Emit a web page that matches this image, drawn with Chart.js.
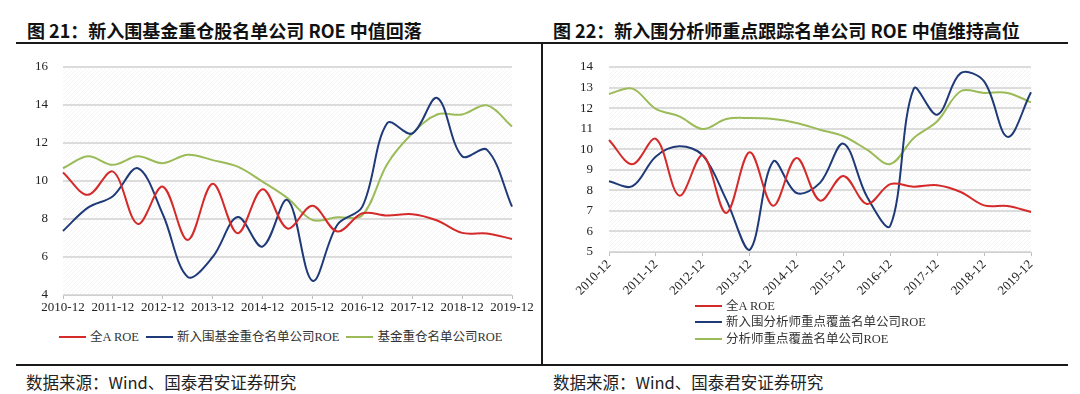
<!DOCTYPE html>
<html>
<head>
<meta charset="utf-8">
<script src="https://cdn.jsdelivr.net/npm/chart.js@4.4.0/dist/chart.umd.min.js"></script>
<style>
  body { margin: 0; background: #fff; width: 1080px; height: 394px; position: relative; overflow: hidden;
         font-family: "Noto Sans CJK SC", sans-serif; }
  .title { position: absolute; top: 17px; font-weight: bold; font-size: 18px; line-height: 26px; color: #111; white-space: nowrap; }
  .rule { position: absolute; background: #1a1a1a; }
  .src { position: absolute; top: 371px; font-size: 16.5px; line-height: 22px; color: #222; white-space: nowrap; }
  .box { position: absolute; }
  .legend { position: absolute; font-family: "Liberation Serif", "Noto Sans CJK SC", serif; font-size: 12.5px; color: #333; white-space: nowrap; }
  .legend .item { display: inline-flex; align-items: center; margin-right: 7px; line-height: 16px; }
  .legend.stack .item { display: flex; margin: 0; line-height: 16.3px; }
  .legend i { display: inline-block; width: 27px; height: 2px; margin-right: 4px; }
</style>
</head>
<body>

<div class="title" style="left:27px">图 21：新入围基金重仓股名单公司 ROE 中值回落</div>
<div class="title" style="left:553px">图 22：新入围分析师重点跟踪名单公司 ROE 中值维持高位</div>
<div class="rule" style="left:16px; top:42px; width:1052px; height:2px"></div>
<div class="rule" style="left:541px; top:43px; width:2px; height:322px"></div>
<div class="rule" style="left:16px; top:364px; width:1052px; height:2px"></div>

<div class="box" style="left:16px; top:50px; width:524px; height:275px"><canvas id="left"></canvas></div>
<div class="box" style="left:560px; top:50px; width:500px; height:250px"><canvas id="right"></canvas></div>

<div class="legend" id="legendLeft" style="left:59px; top:327px"></div>
<div class="legend stack" id="legendRight" style="left:695px; top:298px"></div>

<div class="src" style="left:26px">数据来源：Wind、国泰君安证券研究</div>
<div class="src" style="left:553px">数据来源：Wind、国泰君安证券研究</div>

<script>
// half-year periods, only the December ones are labelled
var periods = ['2010-12', '2011-06', '2011-12', '2012-06', '2012-12', '2013-06', '2013-12', '2014-06', '2014-12',
               '2015-06', '2015-12', '2016-06', '2016-12', '2017-06', '2017-12', '2018-06', '2018-12', '2019-06', '2019-12'];

// 全A ROE (same series in both charts)
var allA      = [10.45, 9.27, 10.5, 7.74, 9.7, 6.9, 9.85, 7.25, 9.57, 7.5, 8.7, 7.34, 8.3, 8.18, 8.25, 7.92, 7.27, 7.24, 6.95];
// left chart
var newFund   = [7.37, 8.6, 9.2, 10.67, 8.25, 4.95, 6.0, 8.1, 6.55, 9.0, 4.75, 7.7, 8.65, 13.05, 12.5, 14.37, 11.3, 11.64, 8.65];
var fund      = [10.67, 11.3, 10.85, 11.3, 10.94, 11.38, 11.1, 10.76, 9.97, 9.1, 7.95, 8.09, 8.2, 10.9, 12.5, 13.5, 13.5, 13.98, 12.87];
// right chart
var newAnalyst = [8.44, 8.2, 9.65, 10.14, 9.7, 7.55, 5.1, 9.4, 7.87, 8.36, 10.27, 7.7, 6.28, 12.95, 11.68, 13.7, 13.3, 10.6, 12.77];
var analyst    = [12.69, 12.95, 11.96, 11.6, 10.98, 11.47, 11.52, 11.47, 11.28, 10.95, 10.63, 9.98, 9.28, 10.55, 11.36, 12.82, 12.74, 12.74, 12.28];

var RED = '#d42a2a', BLUE = '#1f3a78', GREEN = '#9bbb59';
var tickFont = { family: 'Liberation Serif', size: 13 };

// light diagonal hatching behind the plot area
var hatch = {
    id: 'hatch',
    beforeDraw: function (chart) {
        var ctx = chart.ctx, a = chart.chartArea;
        ctx.save();
        ctx.beginPath();
        ctx.rect(a.left, a.top, a.right - a.left, a.bottom - a.top);
        ctx.clip();
        ctx.strokeStyle = 'rgba(0,0,0,0.045)';
        ctx.lineWidth = 1;
        ctx.beginPath();
        var h = a.bottom - a.top;
        for (var x = a.left - h; x < a.right; x += 4) {
            ctx.moveTo(x, a.bottom);
            ctx.lineTo(x + h, a.top);
        }
        ctx.stroke();
        ctx.restore();
    }
};

function series(label, data, color) {
    return {
        label: label, data: data, borderColor: color, backgroundColor: color,
        borderWidth: 2, pointRadius: 0, tension: 0.35, fill: false
    };
}

function makeChart(id, datasets, yMin, yMax, yStep, yWidth, yGap, xHeight, rotate, padRight) {
    return new Chart(document.getElementById(id), {
        type: 'line',
        data: { labels: periods, datasets: datasets },
        plugins: [hatch],
        options: {
            responsive: true,
            maintainAspectRatio: false,
            animation: false,
            layout: { padding: { top: 17, right: padRight, bottom: 0, left: 0 } },
            plugins: { legend: { display: false }, tooltip: { enabled: false } },
            scales: {
                x: {
                    afterFit: function (s) { s.height = xHeight; },
                    border: { display: true, color: '#d0d0d0', width: 1 },
                    grid: {
                        drawOnChartArea: false, drawTicks: true, tickLength: 4,
                        tickColor: function (c) { return c.index % 2 ? 'rgba(0,0,0,0)' : '#bdbdbd'; }
                    },
                    ticks: {
                        autoSkip: false, maxRotation: rotate, minRotation: rotate, padding: 1,
                        color: '#222', font: tickFont,
                        callback: function (v, i) { return i % 2 ? '' : periods[i]; }
                    }
                },
                y: {
                    min: yMin, max: yMax,
                    afterFit: function (s) { s.width = yWidth; },
                    border: { display: false },
                    // invisible tick marks give the gap between labels and plot
                    grid: { color: '#dcdcdc', lineWidth: 2, drawTicks: true, tickLength: yGap, tickColor: 'rgba(0,0,0,0)' },
                    ticks: { stepSize: yStep, padding: 2, color: '#222', font: tickFont }
                }
            }
        }
    });
}

var left = makeChart('left', [
    series('全A ROE', allA, RED),
    series('新入围基金重仓名单公司ROE', newFund, BLUE),
    series('基金重仓名单公司ROE', fund, GREEN)
], 4, 16, 2, 47, 13, 30, 0, 28);

var right = makeChart('right', [
    series('全A ROE', allA, RED),
    series('新入围分析师重点覆盖名单公司ROE', newAnalyst, BLUE),
    series('分析师重点覆盖名单公司ROE', analyst, GREEN)
], 5, 14, 1, 49, 14, 48, 45, 29);

function buildLegend(chart, el) {
    chart.data.datasets.forEach(function (ds) {
        var item = document.createElement('span');
        item.className = 'item';
        var line = document.createElement('i');
        line.style.background = ds.borderColor;
        item.appendChild(line);
        item.appendChild(document.createTextNode(ds.label));
        el.appendChild(item);
    });
}
buildLegend(left, document.getElementById('legendLeft'));
buildLegend(right, document.getElementById('legendRight'));
</script>
</body>
</html>
